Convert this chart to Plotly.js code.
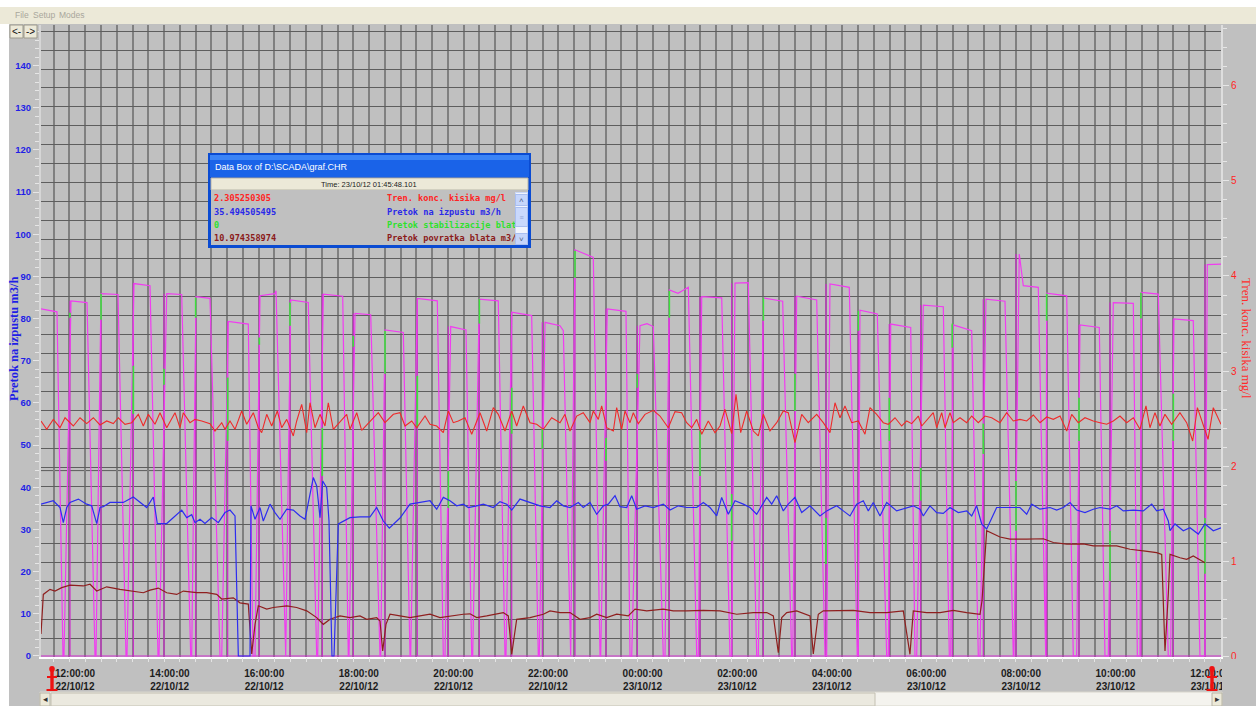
<!DOCTYPE html>
<html><head><meta charset="utf-8">
<script src="https://cdn.plot.ly/plotly-3.0.1.min.js"></script>
<style>html,body{margin:0;padding:0;background:#c0c0c0;overflow:hidden}#chart{width:1256px;height:706px}</style>
</head><body><div id="chart"></div>
<script>
// ---------- DATA (time = hours after 12:00 22/10/12) ----------
const magenta = [[-0.719,82.3],[-0.381,81.6],[-0.254,0],[-0.233,0],[-0.085,84.2],[0.254,83.8],[0.423,0],[0.444,0],[0.550,85.9],[0.909,85.7],[1.078,0],[1.099,0],[1.247,88.3],[1.586,87.8],[1.755,0],[1.776,0],[1.939,85.9],[2.256,85.7],[2.446,0],[2.467,0],[2.558,85.2],[2.854,84.8],[3.066,0],[3.102,0],[3.241,79.3],[3.664,78.7],[3.763,0],[3.806,0],[3.911,85.4],[4.228,85.9],[4.250,86.6],[4.440,0],[4.455,0],[4.560,84.4],[4.932,83.8],[5.110,0],[5.131,0],[5.250,85.8],[5.660,85.3],[5.778,0],[5.793,0],[5.920,81.2],[6.252,80.9],[6.448,0],[6.463,0],[6.554,77.3],[6.941,76.7],[7.083,0],[7.097,0],[7.237,84.8],[7.660,84.2],[7.787,0],[7.823,0],[7.943,78.1],[8.267,77.3],[8.387,0],[8.408,0],[8.548,84.6],[8.949,84.2],[9.091,0],[9.112,0],[9.233,81.5],[9.655,80.7],[9.795,0],[9.816,0],[9.937,79.1],[10.254,78.3],[10.324,77.1],[10.465,0],[10.480,0],[10.571,96.3],[10.958,94.5],[11.100,0],[11.114,0],[11.254,82.3],[11.649,81.7],[11.734,0],[11.770,0],[11.945,78.3],[12.093,78.8],[12.227,78.1],[12.438,0],[12.474,0],[12.565,86.8],[12.749,86.0],[12.967,87.4],[13.144,0],[13.178,0],[13.250,85.2],[13.673,84.9],[13.848,0],[13.884,0],[13.954,88.4],[14.235,88.5],[14.413,0],[14.446,0],[14.552,84.9],[14.962,84.1],[15.152,0],[15.174,0],[15.258,85.3],[15.681,84.4],[15.857,0],[15.892,0],[15.962,88.2],[16.370,87.4],[16.539,0],[16.560,0],[16.596,82.0],[16.962,81.1],[17.161,0],[17.195,0],[17.246,78.7],[17.669,77.9],[17.759,0],[17.795,0],[17.935,83.2],[18.358,82.8],[18.485,0],[18.514,0],[18.569,78.5],[18.958,77.1],[19.098,0],[19.134,0],[19.260,84.6],[19.662,84.1],[19.838,0],[19.852,0],[19.964,95.3],[20.049,87.8],[20.366,87.4],[20.508,0],[20.523,0],[20.544,86.0],[20.967,85.4],[21.106,0],[21.178,0],[21.248,78.5],[21.656,77.9],[21.776,0],[21.846,0],[21.952,83.8],[22.375,83.6],[22.460,0],[22.516,0],[22.552,86.2],[22.903,85.8],[23.114,0],[23.165,0],[23.234,79.9],[23.643,79.5],[23.784,0],[23.890,0],[23.939,92.8],[24.229,92.9]];

// switching spikes: [time, spike top, green segment top, green segment bottom]
const spikes = [[-0.106,84.2,81.4,80.2],[0.550,85.9,85.9,79.7],[1.233,88.3,68.8,57.4],[1.882,85.9,68.1,64.3],[2.552,85.2,85.0,80.2],[3.228,79.3,66.0,51.0],[3.896,85.4,75.5,73.8],[4.546,84.4,83.8,78.3],[5.228,85.8,54.1,42.7],[5.884,81.2,75.9,73.3],[6.554,77.3,77.1,66.9],[7.237,84.8,66.4,54.1],[7.892,78.1,43.9,35.1],[8.548,84.6,84.7,78.8],[9.233,81.5,63.6,52.7],[9.880,79.1,53.9,49.1],[10.571,96.3,96.1,89.7],[11.226,82.3,51.7,46.3],[11.888,78.3,66.9,63.6],[12.565,86.8,86.6,80.2],[13.214,85.2,53.4,42.7],[13.884,88.4,38.4,27.3],[14.552,84.9,85.0,79.5],[15.222,85.3,66.9,58.1],[15.878,88.2,32.7,21.8],[16.561,82.0,81.9,77.1],[17.216,78.7,61.2,51.0],[17.880,83.2,44.6,36.8],[18.548,78.5,78.8,73.1],[19.203,84.6,55.1,47.9],[19.895,95.3,41.5,29.7],[20.544,86.0,85.9,79.5],[21.227,78.5,61.2,51.0],[21.882,83.8,29.7,17.8],[22.537,86.2,86.1,80.0],[23.220,79.9,62.2,51.0],[23.890,92.8,32.7,19.5]];

// Pretok na izpustu m3/h
const blue = [[-0.719,36.0],[-0.459,36.8],[-0.317,35.2],[-0.247,31.6],[-0.175,35.2],[-0.106,36.4],[0.070,37.2],[0.247,36.0],[0.353,35.6],[0.459,31.4],[0.529,35.2],[0.598,35.4],[0.740,36.4],[1.021,36.4],[1.233,37.7],[1.374,36.4],[1.516,35.2],[1.655,37.7],[1.740,31.4],[1.939,31.4],[2.078,32.8],[2.256,34.6],[2.362,32.8],[2.467,33.5],[2.537,31.6],[2.643,32.4],[2.748,31.4],[2.890,32.8],[3.030,31.6],[3.171,34.0],[3.277,34.6],[3.383,33.2],[3.453,0],[3.700,0],[3.721,35.6],[3.806,32.4],[3.911,35.2],[3.981,32.0],[4.123,36.0],[4.228,34.0],[4.334,32.4],[4.476,34.8],[4.615,34.6],[4.757,33.2],[4.863,32.4],[4.932,36.0],[5.038,42.3],[5.110,40.3],[5.180,32.8],[5.237,41.5],[5.321,39.9],[5.370,32.0],[5.433,0],[5.476,0],[5.567,31.3],[5.814,32.8],[6.025,33.0],[6.237,33.0],[6.378,35.2],[6.518,32.0],[6.645,30.3],[6.765,31.6],[6.871,32.7],[7.083,36.0],[7.294,36.4],[7.506,36.8],[7.647,34.8],[7.787,37.6],[7.928,36.8],[8.070,35.6],[8.209,36.0],[8.315,35.2],[8.493,35.6],[8.632,36.0],[8.844,35.2],[8.985,36.6],[9.127,36.0],[9.233,34.6],[9.408,37.2],[9.620,36.4],[9.831,35.6],[10.042,35.2],[10.184,36.8],[10.324,35.6],[10.465,35.2],[10.641,36.4],[10.746,35.2],[10.888,36.4],[11.030,33.6],[11.169,35.6],[11.275,36.0],[11.417,38.0],[11.522,35.4],[11.664,35.2],[11.770,38.0],[11.875,34.8],[12.051,35.6],[12.226,35.2],[12.438,36.0],[12.580,34.6],[12.755,35.6],[12.933,35.2],[13.144,35.2],[13.284,36.4],[13.425,35.2],[13.567,33.2],[13.672,37.6],[13.812,33.6],[13.954,36.8],[14.129,36.0],[14.271,35.2],[14.412,33.6],[14.624,37.6],[14.730,36.0],[14.835,38.0],[14.975,34.4],[15.080,36.0],[15.222,37.6],[15.364,34.0],[15.540,35.6],[15.751,33.2],[15.892,34.4],[16.104,35.6],[16.243,34.4],[16.385,33.2],[16.527,36.0],[16.666,36.8],[16.772,34.4],[16.877,36.4],[17.019,33.2],[17.161,36.4],[17.372,34.4],[17.584,35.2],[17.723,35.6],[17.865,34.8],[17.935,33.2],[18.076,35.6],[18.218,34.0],[18.357,33.8],[18.499,35.2],[18.675,34.0],[18.852,34.4],[18.958,33.2],[19.063,35.6],[19.169,31.3],[19.275,30.1],[19.486,35.2],[19.768,35.2],[19.979,35.2],[20.121,33.6],[20.226,36.0],[20.402,34.8],[20.613,35.2],[20.755,34.6],[20.895,35.2],[21.036,36.4],[21.178,34.6],[21.353,34.0],[21.529,34.8],[21.671,35.2],[21.882,34.8],[22.024,35.6],[22.163,34.4],[22.375,34.6],[22.587,34.4],[22.764,36.0],[22.869,34.4],[23.009,34.8],[23.115,32.0],[23.151,29.7],[23.256,31.3],[23.432,29.7],[23.573,30.4],[23.749,28.9],[23.890,31.3],[24.066,29.7],[24.229,30.4]];

// Pretok povratka blata m3/h
const brown = [[-0.719,5.2],[-0.670,14.6],[-0.529,15.8],[-0.423,15.4],[-0.281,16.2],[-0.106,16.8],[0.175,16.6],[0.317,17.0],[0.459,15.4],[0.670,16.4],[0.951,15.8],[1.163,15.4],[1.444,15.0],[1.586,15.6],[1.761,16.1],[1.939,15.0],[2.150,14.6],[2.290,15.4],[2.573,15.0],[2.784,15.0],[2.996,14.6],[3.102,13.5],[3.347,13.8],[3.488,12.6],[3.664,12.3],[3.736,0.5],[3.806,7.5],[3.875,11.9],[4.053,11.1],[4.192,11.5],[4.476,11.9],[4.687,11.5],[4.899,10.7],[5.110,9.1],[5.250,7.5],[5.391,8.7],[5.603,9.5],[5.814,9.1],[6.025,9.5],[6.167,8.7],[6.378,9.1],[6.448,8.3],[6.505,1.2],[6.575,7.5],[6.660,9.9],[6.871,9.5],[7.083,9.1],[7.294,9.5],[7.506,9.9],[7.717,9.1],[7.928,9.5],[8.209,9.9],[8.351,10.0],[8.493,9.1],[8.704,9.5],[8.916,9.9],[9.055,10.3],[9.161,9.5],[9.233,0.4],[9.338,8.7],[9.620,9.1],[9.901,9.9],[10.042,10.7],[10.254,10.3],[10.465,10.3],[10.677,8.7],[10.888,9.1],[11.030,9.9],[11.241,9.1],[11.452,9.9],[11.698,9.5],[11.840,11.1],[12.087,10.7],[12.438,11.1],[12.649,10.7],[12.933,10.7],[13.284,10.8],[13.637,10.7],[13.990,9.9],[14.341,10.3],[14.625,10.3],[14.764,9.5],[14.870,0.8],[14.942,9.1],[15.048,10.3],[15.258,10.7],[15.540,9.5],[15.609,0.5],[15.715,9.9],[15.820,10.7],[16.104,10.7],[16.455,10.8],[16.808,10.3],[17.161,10.3],[17.512,10.7],[17.653,0.4],[17.723,10.7],[18.006,10.3],[18.288,10.3],[18.569,10.8],[18.852,10.3],[19.134,9.9],[19.176,13.1],[19.275,29.7],[19.556,28.2],[19.768,27.7],[20.121,27.7],[20.472,27.8],[20.684,26.9],[20.967,26.5],[21.318,26.6],[21.529,26.1],[22.024,26.1],[22.305,25.3],[22.587,24.9],[22.869,24.5],[22.975,24.1],[23.045,1.2],[23.115,14.7],[23.151,24.1],[23.362,23.3],[23.503,22.9],[23.643,23.7],[23.784,22.9],[23.890,22.1]];

// Tren. konc. kisika mg/l (right axis)
const red = [[-0.719,2.474],[-0.598,2.386],[-0.459,2.491],[-0.317,2.403],[-0.211,2.508],[-0.036,2.421],[0.106,2.508],[0.247,2.446],[0.387,2.508],[0.529,2.432],[0.670,2.474],[0.810,2.446],[0.915,2.508],[1.057,2.439],[1.199,2.456],[1.338,2.544],[1.444,2.421],[1.550,2.544],[1.691,2.439],[1.797,2.561],[1.939,2.403],[2.114,2.561],[2.220,2.403],[2.290,2.561],[2.431,2.456],[2.537,2.491],[2.679,2.474],[2.854,2.446],[2.960,2.368],[3.102,2.456],[3.171,2.386],[3.277,2.474],[3.383,2.386],[3.524,2.579],[3.630,2.439],[3.770,2.561],[3.875,2.403],[3.947,2.351],[4.053,2.544],[4.159,2.421],[4.277,2.579],[4.370,2.403],[4.476,2.491],[4.615,2.316],[4.687,2.474],[4.793,2.649],[4.899,2.351],[4.968,2.666],[5.074,2.403],[5.180,2.544],[5.285,2.421],[5.355,2.666],[5.461,2.386],[5.638,2.491],[5.744,2.544],[5.814,2.386],[5.956,2.561],[6.061,2.375],[6.237,2.474],[6.412,2.561],[6.554,2.456],[6.730,2.544],[6.871,2.561],[6.977,2.421],[7.119,2.474],[7.224,2.403],[7.400,2.526],[7.506,2.439],[7.647,2.421],[7.787,2.351],[7.892,2.579],[7.998,2.456],[8.104,2.474],[8.245,2.508],[8.387,2.334],[8.563,2.561],[8.704,2.368],[8.844,2.614],[8.949,2.544],[9.091,2.368],[9.233,2.579],[9.338,2.421],[9.478,2.632],[9.620,2.456],[9.761,2.439],[9.901,2.386],[10.078,2.508],[10.254,2.456],[10.359,2.544],[10.465,2.368],[10.607,2.526],[10.746,2.561],[10.888,2.456],[10.958,2.579],[11.064,2.491],[11.135,2.632],[11.241,2.403],[11.381,2.368],[11.452,2.614],[11.558,2.386],[11.628,2.579],[11.734,2.456],[11.804,2.561],[11.910,2.446],[12.051,2.544],[12.226,2.586],[12.368,2.526],[12.543,2.403],[12.685,2.572],[12.826,2.561],[12.932,2.456],[13.038,2.403],[13.144,2.491],[13.250,2.334],[13.389,2.474],[13.531,2.351],[13.637,2.421],[13.742,2.597],[13.884,2.340],[13.975,2.755],[14.074,2.351],[14.201,2.579],[14.341,2.368],[14.446,2.316],[14.552,2.544],[14.694,2.368],[14.835,2.456],[14.975,2.579],[15.080,2.561],[15.222,2.245],[15.364,2.544],[15.503,2.456],[15.681,2.544],[15.820,2.456],[15.962,2.351],[16.068,2.666],[16.174,2.508],[16.279,2.632],[16.421,2.456],[16.560,2.474],[16.702,2.334],[16.808,2.614],[16.949,2.544],[17.089,2.456],[17.195,2.439],[17.336,2.508],[17.478,2.421],[17.584,2.474],[17.689,2.446],[17.829,2.526],[17.901,2.421],[18.041,2.508],[18.146,2.561],[18.218,2.403],[18.324,2.561],[18.394,2.403],[18.499,2.561],[18.569,2.456],[18.711,2.508],[18.852,2.456],[18.958,2.526],[19.098,2.456],[19.239,2.526],[19.381,2.508],[19.556,2.456],[19.698,2.561],[19.838,2.474],[19.979,2.491],[20.121,2.474],[20.261,2.537],[20.402,2.456],[20.544,2.516],[20.684,2.491],[20.826,2.526],[20.967,2.368],[21.072,2.544],[21.212,2.456],[21.353,2.508],[21.529,2.474],[21.671,2.456],[21.812,2.439],[21.952,2.474],[22.093,2.526],[22.235,2.456],[22.375,2.508],[22.516,2.386],[22.643,2.632],[22.727,2.403],[22.833,2.561],[22.938,2.421],[23.044,2.544],[23.186,2.439],[23.361,2.561],[23.503,2.456],[23.630,2.263],[23.730,2.614],[23.870,2.403],[23.955,2.281],[24.066,2.614],[24.229,2.439]];

const dataBoxValues = ['2.305250305','35.494505495','0','10.974358974'];
const dataBoxNames  = ['Tren. konc. kisika mg/l','Pretok na izpustu m3/h','Pretok stabilizacije blat','Pretok povratka blata m3/'];
const dataBoxColors = ['#ff2424','#2a2ae8','#2ee02e','#8b1a1a'];
const menuItems = ['File','Setup','Modes'];

// ---------- helpers ----------
const BASE = Date.UTC(2012, 9, 22, 12, 0, 0);
const T = h => BASE + h * 3600000;
const W = 1256, H = 706, L = 41, R = 1221, TOP = 25, BOT = 657;
const PW = R - L, PH = BOT - TOP;
const px = x => (x - L) / PW;
const py = y => (BOT - y) / PH;
const SANS = '"Liberation Sans", Arial, sans-serif';
const MONO = '"DejaVu Sans Mono", "Liberation Mono", monospace';
const SERIF = '"Liberation Serif", "Times New Roman", serif';

function rect(x0, y0, x1, y1, fill, lc, lw, layer) {
  return {type: 'rect', xref: 'paper', yref: 'paper', x0: px(x0), x1: px(x1), y0: py(y1), y1: py(y0),
    fillcolor: fill, line: {color: lc || fill, width: lw || 0}, layer: layer || 'above'};
}
function seg(x0, y0, x1, y1, col, w, layer) {
  return {type: 'line', xref: 'paper', yref: 'paper', x0: px(x0), x1: px(x1), y0: py(y0), y1: py(y1),
    line: {color: col, width: w}, layer: layer || 'above'};
}
function ann(x, y, text, font, xa, extra) {
  return Object.assign({xref: 'paper', yref: 'paper', x: px(x), y: py(y), text: text, showarrow: false,
    xanchor: xa || 'left', yanchor: 'middle', font: font}, extra || {});
}

// ---------- traces ----------
const spikeX = [T(-0.719)], spikeY = [0];
const greenX = [], greenY = [];
spikes.forEach(s => {
  spikeX.push(T(s[0]), T(s[0]), T(s[0])); spikeY.push(0, s[1], 0);
  greenX.push(T(s[0]), T(s[0]), null); greenY.push(s[2], s[3], null);
});
spikeX.push(T(24.229)); spikeY.push(0);

const line = (c, w) => ({color: c, width: w});
const traces = [
  {x: [], y: [], xaxis: 'x2', yaxis: 'y3', type: 'scatter', mode: 'lines', hoverinfo: 'skip'},
  {x: spikeX, y: spikeY, type: 'scatter', mode: 'lines', line: line('#cc2ccc', 1.2), hoverinfo: 'skip'},
  {x: magenta.map(p => T(p[0])), y: magenta.map(p => p[1]), type: 'scatter', mode: 'lines', line: line('#f03cf0', 1.2), hoverinfo: 'skip'},
  {x: greenX, y: greenY, type: 'scatter', mode: 'lines', line: line('#3be23b', 1.7), connectgaps: false, hoverinfo: 'skip'},
  {x: brown.map(p => T(p[0])), y: brown.map(p => p[1]), type: 'scatter', mode: 'lines', line: line('#8f1f1f', 1.2), hoverinfo: 'skip'},
  {x: blue.map(p => T(p[0])), y: blue.map(p => p[1]), type: 'scatter', mode: 'lines', line: line('#2d2df0', 1.2), hoverinfo: 'skip'},
  {x: red.map(p => T(p[0])), y: red.map(p => p[1]), yaxis: 'y2', type: 'scatter', mode: 'lines', line: line('#ee2a2a', 1.1), hoverinfo: 'skip'}
];

// ---------- decorations ----------
const shapes = [
  seg(L, 470.6, R, 470.6, '#5c5c5c', 1, 'below'),
  rect(0, 0, W, 7, '#ffffff'),
  rect(0, 7, W, 24, '#ece9d8'),
  rect(0, 24, 9, H, '#ffffff'),
  rect(10, 25, 23, 38, '#ece9d8', '#9d9a8c', 1),
  rect(24, 25, 37, 38, '#ece9d8', '#9d9a8c', 1),
  rect(1222, 659, W, 692, '#c0c0c0'),
  rect(40, 692, 1222, H, '#f4f3ee', '#d8d6cc', 1),
  rect(51, 693, 875, H, '#ebe9df', '#c3c0b2', 1),
  rect(40, 693, 50, H, '#ece9d8', '#b8b5a6', 1),
  rect(1212, 693, 1222, H, '#ece9d8', '#b8b5a6', 1),
  rect(208, 153, 531, 248, '#0a4bd2'),
  rect(210, 155, 529, 177, '#1a63e8'),
  rect(210, 155, 529, 160, '#3b84f6'),
  rect(211, 178, 528, 190, '#ece9d8', '#b9b6a8', 1),
  rect(211, 190, 528, 245, '#c0c0c0')
];
[52, 1212].forEach(cx => {
  shapes.push({type: 'circle', xref: 'paper', yref: 'paper', x0: px(cx - 2.8), x1: px(cx + 2.8), y0: py(672), y1: py(666),
    fillcolor: '#ee1111', line: {color: '#ee1111', width: 0}, layer: 'above'});
  shapes.push(rect(cx - 1.7, 671, cx + 1.7, 690, '#ee1111'));
  shapes.push(seg(cx - 5, 677, cx + 5, 677, '#ee1111', 2));
  shapes.push(seg(cx - 5.5, 690, cx + 5.5, 690, '#ee1111', 2));
});

const annotations = [
  ann(14, 339, 'Pretok na izpustu m3/h', {family: SERIF, size: 12.5, color: '#1e1ee6', weight: 'bold'}, 'center', {textangle: -90}),
  ann(1247, 338, 'Tren. konc. kisika mg/l', {family: SERIF, size: 13, color: '#ff2a2a'}, 'center', {textangle: 90}),
  ann(13, 15, menuItems[0], {family: SANS, size: 8.5, color: '#a9a79c'}),
  ann(31, 15, menuItems[1], {family: SANS, size: 8.5, color: '#a9a79c'}),
  ann(57, 15, menuItems[2], {family: SANS, size: 8.5, color: '#a9a79c'}),
  ann(16.5, 31.5, '<-', {family: SANS, size: 10, color: '#111'}, 'center'),
  ann(30.5, 31.5, '->', {family: SANS, size: 10, color: '#111'}, 'center'),
  ann(45, 699, '◂', {family: SANS, size: 9, color: '#333'}, 'center'),
  ann(1217, 699, '▸', {family: SANS, size: 9, color: '#333'}, 'center'),
  ann(213, 167, 'Data Box of D:\\SCADA\\graf.CHR', {family: SANS, size: 9, color: '#ffffff'}),
  ann(369, 184.5, 'Time: 23/10/12 01:45:48.101', {family: SANS, size: 7.5, color: '#222'}, 'center')
];
const rowsY = [198, 211.5, 224.5, 238];
dataBoxValues.forEach((v, i) => {
  annotations.push(ann(212, rowsY[i], v, {family: MONO, size: 8.6, color: dataBoxColors[i], weight: 'bold'}));
  annotations.push(ann(385, rowsY[i], dataBoxNames[i], {family: MONO, size: 8.6, color: dataBoxColors[i], weight: 'bold'}));
});
annotations.push(ann(521, 218.5, ' ', {size: 8}, 'center', {width: 11, height: 51, bgcolor: '#f1f4fd', bordercolor: '#c9d6f5', borderwidth: 1, borderpad: 0}));
annotations.push(ann(521, 199.5, '˄', {family: SANS, size: 8, color: '#4d6185'}, 'center', {width: 11, height: 10, bgcolor: '#c5d5fb', bordercolor: '#a9bef0', borderwidth: 1, borderpad: 0}));
annotations.push(ann(521, 217.5, '≡', {family: SANS, size: 7, color: '#8ea3d6'}, 'center', {width: 11, height: 18, bgcolor: '#c9d8fc', bordercolor: '#a9bef0', borderwidth: 1, borderpad: 0}));
annotations.push(ann(521, 238.5, '˅', {family: SANS, size: 8, color: '#4d6185'}, 'center', {width: 11, height: 10, bgcolor: '#c5d5fb', bordercolor: '#a9bef0', borderwidth: 1, borderpad: 0}));

const layout = {
  width: W, height: H,
  margin: {l: L, r: W - R, t: TOP, b: H - BOT, pad: 0},
  paper_bgcolor: '#c0c0c0', plot_bgcolor: '#c0c0c0',
  showlegend: false,
  xaxis: {type: 'date', range: [T(-0.719), T(24.229)], tick0: BASE, dtick: 7200000,
    tickformat: '%H:%M:%S<br>%d/%m/%y', showgrid: false, zeroline: false,
    showline: true, linecolor: '#ffffff', linewidth: 2, ticks: '', ticklabelstandoff: 6,
    tickfont: {family: SANS, size: 10, color: '#1c1c1c', weight: 'bold'}, fixedrange: true},
  xaxis2: {overlaying: 'x', anchor: 'y', side: 'bottom', range: [-0.805, 74.02], dtick: 1, tick0: 0,
    showgrid: true, gridcolor: '#808080', gridwidth: 2, zeroline: false, showline: false,
    ticks: 'outside', ticklen: 4, tickcolor: '#e4e4e4', tickwidth: 1, showticklabels: false},
  yaxis: {range: [-0.24, 149.6], dtick: 10, tick0: 0, showgrid: false, zeroline: false,
    showline: true, linecolor: '#d6d6d6', linewidth: 2,
    ticks: 'outside', ticklen: 6, tickcolor: '#e6e6e6', tickwidth: 1,
    minor: {dtick: 2, ticks: 'outside', ticklen: 4, tickcolor: '#e6e6e6', showgrid: false},
    tickfont: {family: SANS, size: 9.5, color: '#1f1fe6', weight: 'bold'}},
  yaxis2: {overlaying: 'y', anchor: 'x', side: 'right', range: [-0.0105, 6.642], dtick: 1, tick0: 0,
    showgrid: false, zeroline: false, showline: true, linecolor: '#dedede', linewidth: 2,
    ticks: 'outside', ticklen: 6, tickcolor: '#e6e6e6', tickwidth: 1,
    minor: {dtick: 0.2, ticks: 'outside', ticklen: 4, tickcolor: '#e6e6e6', showgrid: false},
    tickfont: {family: SANS, size: 10, color: '#ff2424'}},
  yaxis3: {overlaying: 'y', anchor: 'x', side: 'left', range: [0, 33.32], dtick: 1, tick0: 0,
    showgrid: true, gridcolor: '#5e5e5e', gridwidth: 1, zeroline: false, showline: false,
    ticks: '', showticklabels: false},
  shapes: shapes,
  annotations: annotations
};

Plotly.newPlot('chart', traces, layout, {staticPlot: true, displayModeBar: false});
</script></body></html>
